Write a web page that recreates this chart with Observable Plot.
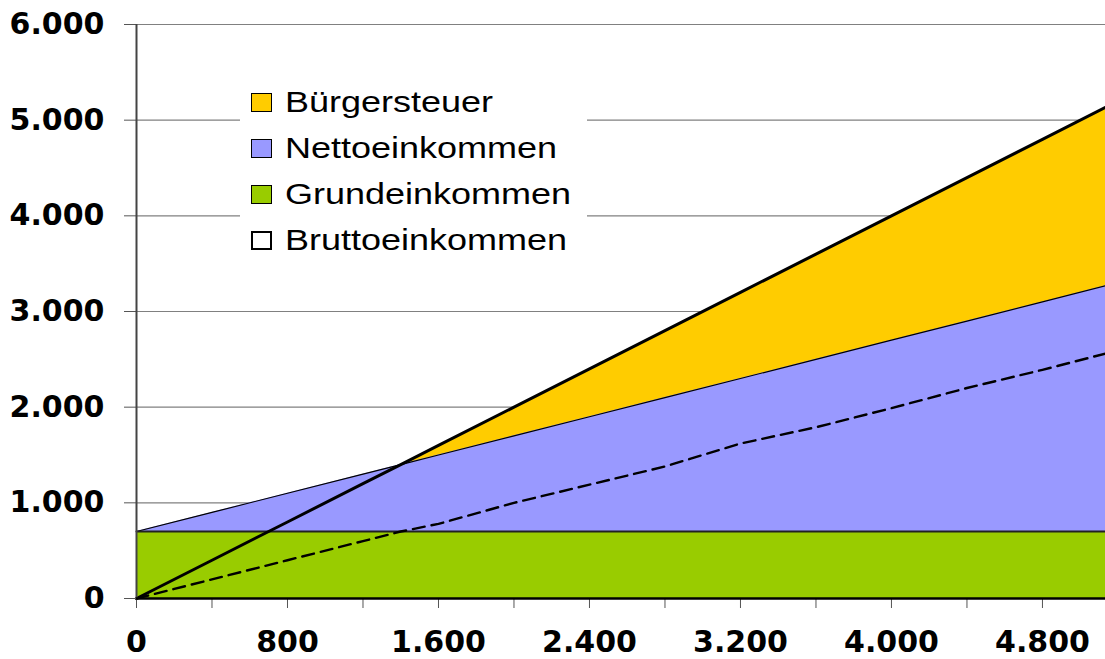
<!DOCTYPE html>
<html>
<head>
<meta charset="utf-8">
<script src="https://cdn.jsdelivr.net/npm/d3@7"></script>
<script src="https://cdn.jsdelivr.net/npm/@observablehq/plot@0.6"></script>
<style>
  html, body { margin: 0; padding: 0; background: #fff; }
  #wrap { position: relative; width: 1105px; height: 659px; }
  .legend { position: absolute; left: 240px; top: 84px; width: 347px; height: 178px; background: #fff; }
  .row { position: absolute; left: 0; height: 30px; display: flex; align-items: center; }
  .sw { width: 21px; height: 19px; box-sizing: border-box; border: 1px solid #000; margin-left: 11px; }
  .lbl { font-family: "Liberation Sans", Arial, sans-serif; font-size: 30px; color: #000;
         margin-left: 13px; display: inline-block; transform: scaleX(1.2); transform-origin: left center; white-space: nowrap; }
</style>
</head>
<body>
<div id="wrap"></div>
<script>
// Data
const brutto = [0, 400, 800, 1200, 1400, 1600, 2000, 2400, 2800, 3200, 3600, 4000, 4400, 4800, 5134];
const netto  = [700, 900, 1100, 1300, 1400, 1500, 1700, 1900, 2100, 2300, 2500, 2700, 2900, 3100, 3270];
const grund  = [700, 700, 700, 700, 700, 700, 700, 700, 700, 700, 700, 700, 700, 700, 700];
const halbe  = [0, 200, 400, 600, 700, 780, 1000, 1190, 1380, 1620, 1790, 1990, 2200, 2390, 2560];
const yTicks = [0, 1000, 2000, 3000, 4000, 5000, 6000];
const xTicks = [0, 400, 800, 1200, 1600, 2000, 2400, 2800, 3200, 3600, 4000, 4400, 4800];
const xLabels = [0, 800, 1600, 2400, 3200, 4000, 4800];
const legendItems = [
  {name: "Bürgersteuer", color: "#FFCC00"},
  {name: "Nettoeinkommen", color: "#9999FF"},
  {name: "Grundeinkommen", color: "#99CC00"},
  {name: "Bruttoeinkommen", color: "#FFFFFF"}
];

const rows = brutto.map((b, i) => ({x: b, brutto: b, netto: netto[i], grund: grund[i], halbe: halbe[i]}));
const de = d3.formatLocale({decimal: ",", thousands: ".", grouping: [3], currency: ["", "€"]});
const fmt = de.format(",d");

const chart = Plot.plot({
  width: 1105,
  height: 659,
  marginLeft: 136,
  marginRight: 0,
  marginTop: 24,
  marginBottom: 61,
  x: {domain: [0, 5134]},
  y: {domain: [0, 6000]},
  style: {background: "transparent"},
  marks: [
    Plot.ruleY(yTicks, {stroke: "#808080", strokeWidth: 1.2}),
    Plot.areaY(rows, {x: "x", y: "brutto", fill: "#FFCC00"}),
    Plot.areaY(rows, {x: "x", y: "netto", fill: "#9999FF"}),
    Plot.lineY(rows, {x: "x", y: "netto", stroke: "#000", strokeWidth: 1.2}),
    Plot.areaY(rows, {x: "x", y: "grund", fill: "#99CC00"}),
    Plot.lineY(rows, {x: "x", y: "grund", stroke: "#222", strokeWidth: 2}),
    Plot.lineY(rows, {x: "x", y: "halbe", stroke: "#000", strokeWidth: 2.4, strokeDasharray: "12,7"}),
    Plot.lineY(rows, {x: "x", y: "brutto", stroke: "#000", strokeWidth: 3}),
    Plot.axisY({ticks: yTicks, tickFormat: fmt, tickSize: 12, tickPadding: 20, stroke: "#555",
      fontSize: 30, fontWeight: "bold", fontFamily: "DejaVu Sans", label: null}),
    Plot.axisX({ticks: xTicks, tickFormat: d => (xLabels.includes(d) ? fmt(d) : ""), tickSize: 10, tickPadding: 22, stroke: "#555",
      fontSize: 30, fontWeight: "bold", fontFamily: "DejaVu Sans", label: null}),
    Plot.ruleX([0], {stroke: "#444", strokeWidth: 2}),
    Plot.ruleY([0], {stroke: "#000", strokeWidth: 2.5})
  ]
});

const wrap = document.getElementById("wrap");
wrap.appendChild(chart);
const leg = document.createElement("div");
leg.className = "legend";
legendItems.forEach((it, i) => {
  const r = document.createElement("div");
  r.className = "row";
  r.style.top = (3 + i * 46) + "px";
  const sw = document.createElement("div");
  sw.className = "sw";
  sw.style.background = it.color;
  if (it.color === "#FFFFFF") sw.style.border = "2.5px solid #000";
  const lb = document.createElement("span");
  lb.className = "lbl";
  lb.textContent = it.name;
  r.appendChild(sw);
  r.appendChild(lb);
  leg.appendChild(r);
});
wrap.appendChild(leg);
</script>
</body>
</html>
